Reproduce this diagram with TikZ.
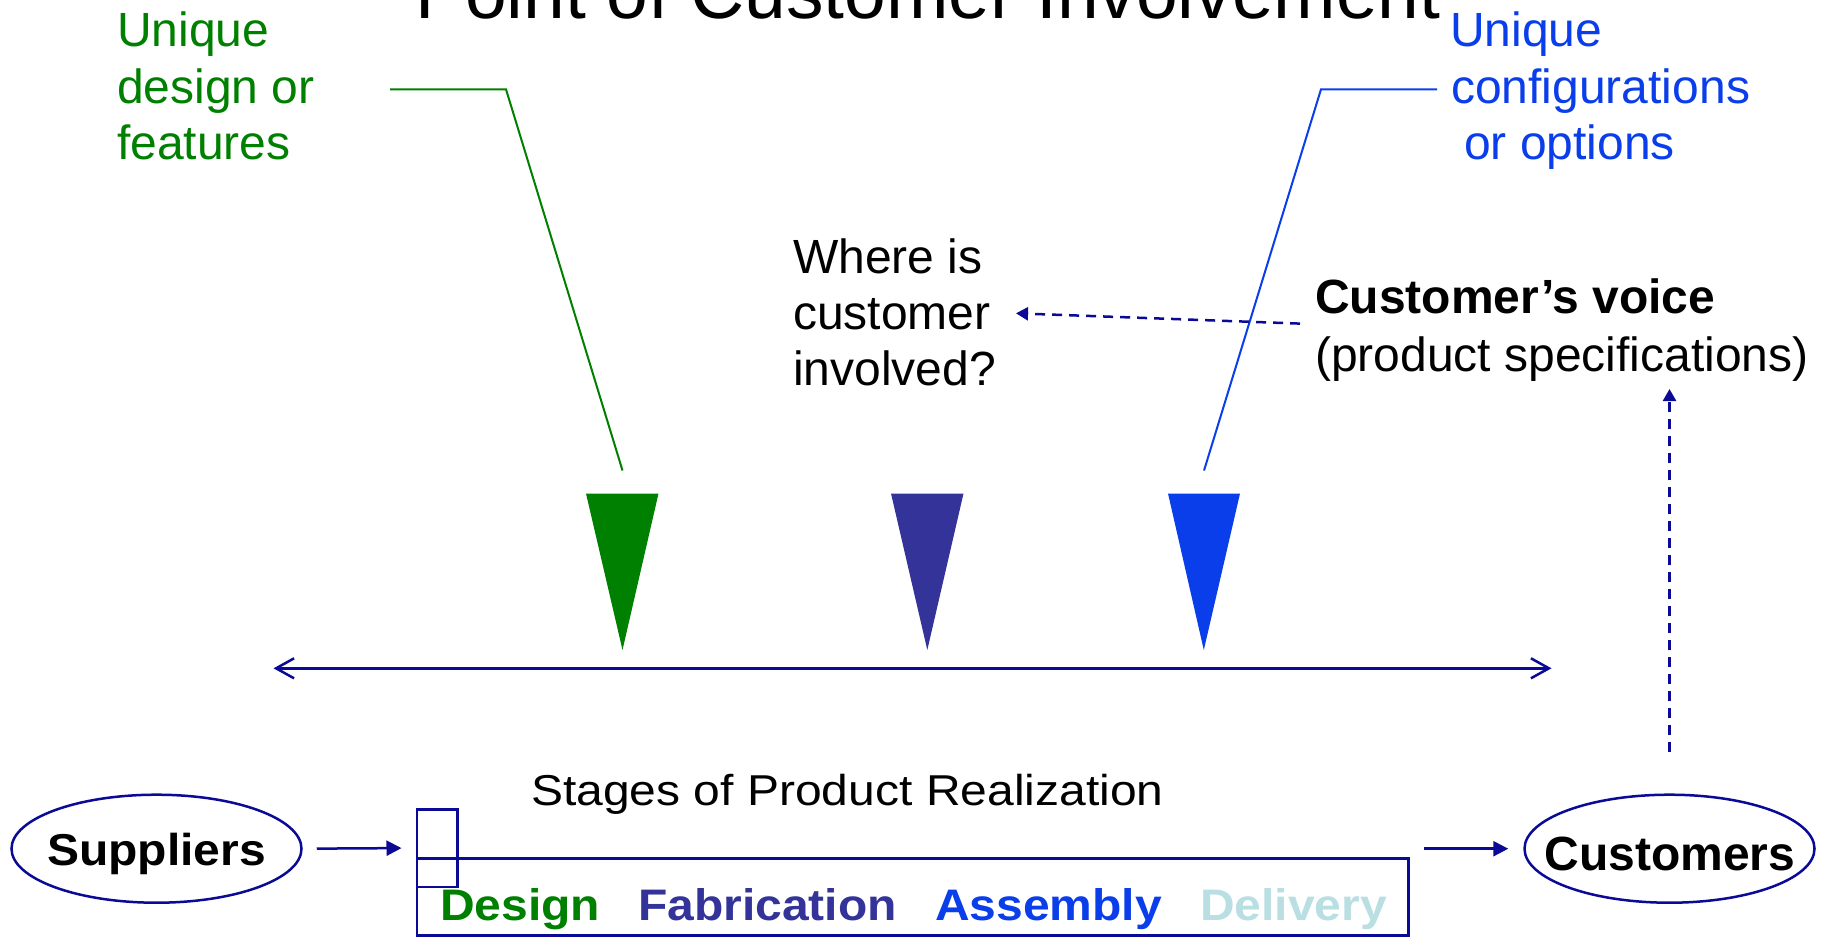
\documentclass[tikz,border=0pt]{standalone}
\usepackage{fontspec}
\setmainfont{Liberation Sans}
\usetikzlibrary{arrows.meta,shapes.geometric}
\definecolor{navy}{RGB}{10,10,150}
\definecolor{dgreen}{RGB}{0,128,0}
\definecolor{purp}{RGB}{51,51,153}
\definecolor{brblue}{RGB}{10,62,234}
\definecolor{lblue}{RGB}{185,223,227}
\begin{document}
\begin{tikzpicture}[x=1pt,y=-1pt,
  txt/.style={inner sep=0pt,anchor=base west,font=\fontsize{48}{56}\selectfont},
  btxt/.style={txt,font=\fontsize{48}{56}\selectfont\bfseries},
  leader/.style={line width=2pt},
  dasharrow/.style={navy,line width=2.5pt,dash pattern=on 10pt off 7pt,-{Triangle[length=12pt,width=13pt]}},
  solidarrow/.style={navy,line width=2.5pt,-{Triangle[length=15pt,width=15pt]}},
  ell/.style={ellipse,draw=navy,line width=2.5pt,minimum width=290pt,minimum height=108pt,inner sep=0pt}
]
\useasboundingbox (0,0) rectangle (1825,937);
\fill[white] (0,0) rectangle (1825,937);

% title (cut at the top)
\node[txt,font=\fontsize{75}{80}\selectfont] (title) at (415,18) {Point of Customer Involvement};

% green label
\node[txt,text=dgreen] (g1) at (117,46.7) {Unique};
\node[txt,text=dgreen] (g2) at (117,103) {design or};
\node[txt,text=dgreen] (g3) at (117,159.3) {features};

% blue label
\node[txt,text=brblue] (b1) at (1450,46.7) {Unique};
\node[txt,text=brblue] (b2) at (1451,103) {configurations};
\node[txt,text=brblue] (b3) at (1464,159.3) {or options};

% question
\node[txt] (q1) at (793,273.3) {Where is};
\node[txt] (q2) at (793,329.3) {customer};
\node[txt] (q3) at (793,385.7) {involved?};

% customer's voice
\node[btxt] (cv1) at (1315,313.3) {Customer’s voice};
\node[txt] (cv2) at (1315,371.7) {(product specifications)};

% leader lines
\coordinate (gA) at (390,89.3);
\coordinate (gB) at (506,89.3);
\coordinate (gC) at (622.5,470.5);
\draw[leader,dgreen] (gA) -- (gB) -- (gC);
\coordinate (bA) at (1437,89.3);
\coordinate (bB) at (1321,89.3);
\coordinate (bC) at (1204,470.5);
\draw[leader,brblue] (bA) -- (bB) -- (bC);

% triangles
\fill[dgreen] (586,493.5) -- (658.5,493.5) -- (622.5,650) -- cycle;
\fill[purp] (891,493.5) -- (963.5,493.5) -- (927.3,650) -- cycle;
\fill[brblue] (1168,493.5) -- (1240,493.5) -- (1203.8,650) -- cycle;

% double arrow
\coordinate (dL) at (273.5,668.3);
\coordinate (dR) at (1551.5,668.3);
\draw[navy,line width=2.5pt,{Straight Barb[length=18pt,width=20pt]}-{Straight Barb[length=18pt,width=20pt]}] (dL) -- (dR);

% dashed arrow towards the question
\coordinate (hS) at (1300,323.6);
\coordinate (hE) at (1016,313.3);
\draw[dasharrow] (hS) -- (hE);

% stages
\node[txt] (stages) at (531,805) {\scalebox{1}[0.9]{Stages of Product Realization}};
\node[draw=navy,line width=2.5pt,inner sep=0pt,minimum width=40.5pt,minimum height=77.5pt] (sb) at (437,848) {};
\node[draw=navy,line width=2.5pt,inner sep=0pt,minimum width=991.5pt,minimum height=77pt] (bb) at (912.8,897.2) {};
\node[btxt,text=dgreen] (s1) at (440,920.7) {\scalebox{1}[0.92]{Design}};
\node[btxt,text=purp] (s2) at (638,920.7) {\scalebox{1}[0.92]{Fabrication}};
\node[btxt,text=brblue] (s3) at (935,920.7) {\scalebox{1}[0.92]{Assembly}};
\node[btxt,text=lblue] (s4) at (1200,920.7) {\scalebox{1}[0.92]{Delivery}};

% ellipses
\node[ell] (sup) at (156.5,848.7) {};
\node[ell] (cust) at (1669.5,848.7) {};
\node[btxt,anchor=base] (supt) at (156.5,865.5) {\scalebox{1}[0.93]{Suppliers}};
\node[btxt,anchor=base] (custt) at (1670,870) {Customers};

\draw[solidarrow,shorten <=14pt,shorten >=14pt] (sup.east) -- (sb.west);
\draw[solidarrow,shorten <=14pt,shorten >=15pt] (bb.east |- cust.west) -- (cust.west);

\coordinate (vT) at (1669.5,389);
\draw[dasharrow,shorten <=41pt] (cust.north) -- (vT);
\end{tikzpicture}
\end{document}
